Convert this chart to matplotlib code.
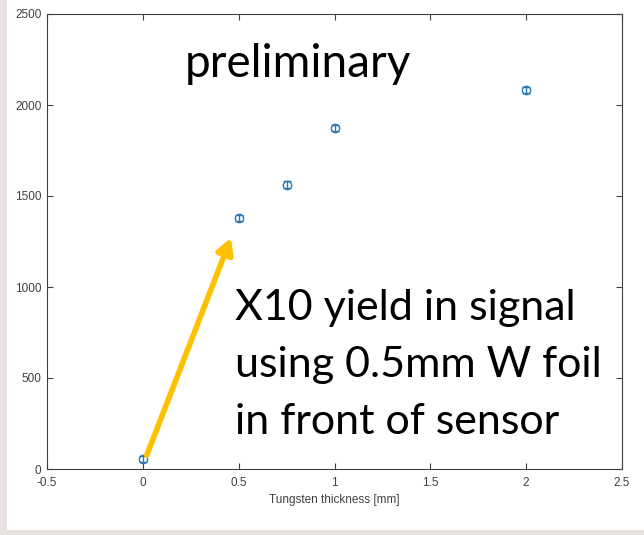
import matplotlib.pyplot as plt
import numpy as np
from matplotlib.patches import Rectangle

# data
thickness = [0, 0.5, 0.75, 1.0, 2.0]
signal = [55, 1378, 1562, 1873, 2083]
signal_err = [18, 18, 18, 18, 18]

arrow_start = (0.02, 75)
arrow_end = (0.46, 1270)

fig = plt.figure(figsize=(6.44, 5.35), dpi=100, facecolor='#e8e3e0')
fig.patches.append(Rectangle((7/644, 5/535), 1, 531/535, transform=fig.transFigure,
                             facecolor='white', edgecolor='none', zorder=-10))

ax = fig.add_axes([47/644, 66/535, 575/644, 455/535])
ax.set_zorder(1)
ax.errorbar(thickness, signal, yerr=signal_err, fmt='o', color='#2a78b8',
            mfc='none', ms=6, mew=1.0, elinewidth=1.0, capsize=3, capthick=1.0)

ax.set_xlim(-0.5, 2.5)
ax.set_ylim(0, 2500)
ax.set_xticks(np.arange(-0.5, 2.51, 0.5))
ax.set_xticklabels(['-0.5', '0', '0.5', '1', '1.5', '2', '2.5'])
ax.set_yticks([0, 500, 1000, 1500, 2000, 2500])
ax.tick_params(direction='in', top=True, right=True, length=4, width=0.8,
               labelsize=8.5, colors='#404040', pad=4)
ax.tick_params(axis='x', pad=6)
for lab in ax.get_xticklabels() + ax.get_yticklabels():
    lab.set_family('Liberation Sans')
for s in ax.spines.values():
    s.set_color('#404040')
    s.set_linewidth(0.8)
ax.set_xlabel('Tungsten thickness [mm]', fontsize=8.5, color='#404040', labelpad=3,
              family='Liberation Sans')

ax.annotate('', xy=arrow_end, xytext=arrow_start,
            arrowprops=dict(arrowstyle='-|>,head_length=0.9,head_width=0.5',
                            color='#FFC000', lw=4, shrinkA=0, shrinkB=0))

ax.text(0.4365, 0.89, 'preliminary', transform=ax.transAxes, fontsize=33,
        family='Lato', ha='center', va='center')
ax.text(0.327, 0.229, 'X10 yield in signal\nusing 0.5mm W foil\nin front of sensor',
        transform=ax.transAxes, fontsize=31, family='Lato', ha='left',
        va='center', linespacing=1.62)

fig.savefig('out.png', dpi=100, facecolor=fig.get_facecolor())
